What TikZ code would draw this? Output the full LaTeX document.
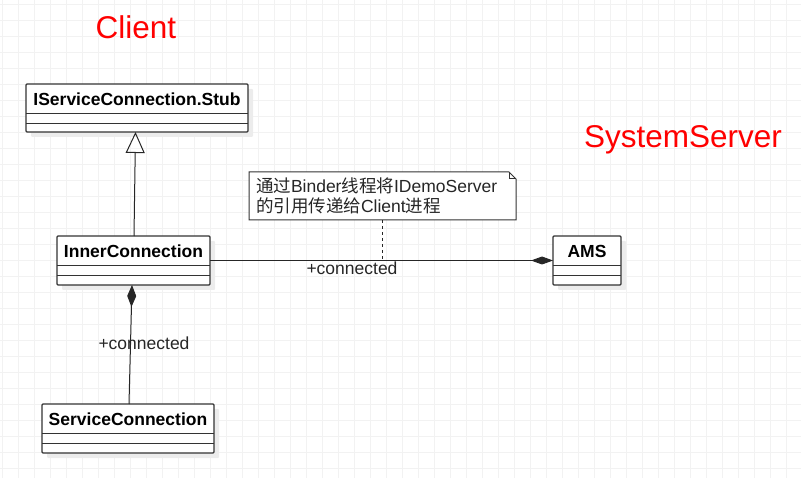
\documentclass[tikz,border=0pt]{standalone}
\usepackage{fontspec}
\setmainfont{Liberation Sans}
\newfontfamily\cjkfont{Noto Sans CJK SC}
\newcommand*{\labelfont}{\fontsize{17.5}{20}\selectfont}
\newcommand*{\titlefont}{\fontsize{31.5}{36}\selectfont}
\definecolor{R}{RGB}{255,0,0}
\definecolor{D}{RGB}{51,51,51}
\definecolor{G}{RGB}{242,242,242}
\definecolor{H}{RGB}{236,236,236}
\usepackage{tikz}
\usetikzlibrary{arrows.meta}
\usetikzlibrary{positioning}
\usetikzlibrary{calc}
\usetikzlibrary{shadows}
\tikzstyle{base}=[x=1pt, y=-1pt, inner sep=0pt, outer sep=0pt]
\tikzstyle{umlclass}=[draw=D, line width=1.2pt, fill=white, rounded corners=1pt, drop shadow={shadow xshift=5pt, shadow yshift=-5pt, fill=H, opacity=1}]
\tikzstyle{classname}=[font=\labelfont\bfseries, text=black]
\tikzstyle{gridline}=[G, line width=0.8pt]
\tikzstyle{link}=[black!85, line width=1pt]
\newcommand*{\classrules}[1]{%
    \draw [D, line width=1pt] ($(#1.north west)+(0,29.5)$) -- ($(#1.north east)+(0,29.5)$);
    \draw [D, line width=1pt] ($(#1.north west)+(0,39.5)$) -- ($(#1.north east)+(0,39.5)$);}

\begin{document}
\begin{tikzpicture}[base]
    \labelfont
        \path [use as bounding box] (0,0) rectangle (801,478);
        \foreach \gx in {2,18,...,800} \draw [gridline] (\gx,0) -- (\gx,478);
        \foreach \gy in {4,20,...,477} \draw [gridline] (0,\gy) -- (801,\gy);
        \node [text=R, font=\titlefont] (client) at (136,27) {Client};
        \node [text=R, font=\titlefont] (server) at (683,140) {SystemServer};
        \node [umlclass, minimum width=222pt, minimum height=48pt] (stub) at (137,108) {};
        \node [classname] (stubname) at ($(stub.north)+(0,15)$) {IServiceConnection.Stub};
        \classrules{stub}
        \node [umlclass, minimum width=153pt, minimum height=49pt] (inner) at (133.5,260.5) {};
        \node [classname] (innername) at ($(inner.north)+(0,15)$) {InnerConnection};
        \classrules{inner}
        \node [umlclass, minimum width=172pt, minimum height=49pt] (svc) at (128,428.5) {};
        \node [classname] (svcname) at ($(svc.north)+(0,15)$) {ServiceConnection};
        \classrules{svc}
        \node [umlclass, minimum width=68pt, minimum height=49pt] (ams) at (587,260.5) {};
        \node [classname] (amsname) at ($(ams.north)+(0,15)$) {AMS};
        \classrules{ams}
        \node [anchor=north west, fill=white, text width=253pt, inner xsep=7pt, minimum height=48pt, align=left, text=black!85] (note) at (249,172)
            {{\cjkfont 通过}Binder{\cjkfont 线程将}IDemoServer\\{\cjkfont 的引用传递给}Client{\cjkfont 进程}};
        \draw [D, line width=1pt] (note.north west) -- ($(note.north east)+(-7,0)$) -- ($(note.north east)+(0,7)$) -- (note.south east) -- (note.south west) -- cycle;
        \draw [D, line width=1pt] ($(note.north east)+(-7,0)$) -- ($(note.north east)+(-7,7)$) -- ($(note.north east)+(0,7)$);
        \draw [link, -{Triangle[open, length=21pt, width=19pt]}] ($(inner.north)+(0.5,0)$) -- ($(stub.south)+(-1.5,0)$);
        \draw [link, -{Diamond[length=22pt, width=9pt]}] ($(svc.north)+(1,0)$) -- ($(inner.south)+(-1.5,0)$);
        \draw [link, -{Diamond[length=22pt, width=8pt]}] (inner.east) -- (ams.west);
        \coordinate (tap) at (note.south |- inner.east);
        \draw [link, dash pattern=on 3pt off 3pt] (note.south) -- (tap);
        \node [text=black!85] (conntop) at (352,268) {+connected};
        \node [text=black!85] (connbot) at (144,343) {+connected};
    \end{tikzpicture}
\end{document}
